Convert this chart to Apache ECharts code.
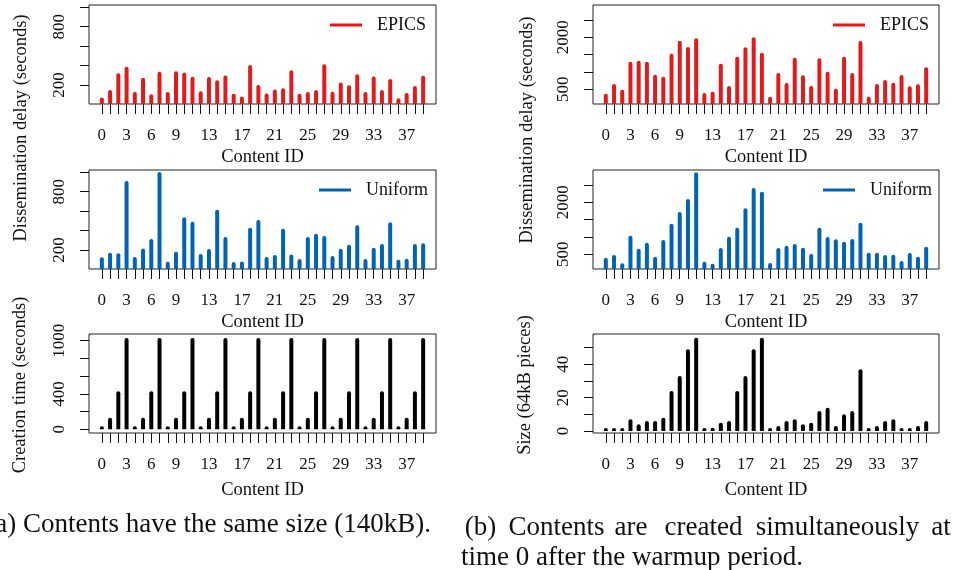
<!DOCTYPE html>
<html>
<head>
<meta charset="utf-8">
<script src="https://cdn.jsdelivr.net/npm/echarts@6/dist/echarts.min.js"></script>
<style>
  html, body { margin: 0; padding: 0; background: #fff; }
  #chart { width: 965px; height: 570px; }
</style>
</head>
<body>
<div id="chart"></div>
<script>
// content ids 0..39 (x categories)
var contentIds = [0,1,2,3,4,5,6,7,8,9,10,11,12,13,14,15,16,17,18,19,
                  20,21,22,23,24,25,26,27,28,29,30,31,32,33,34,35,36,37,38,39];
var xTickLabels = [0,3,6,9,13,17,21,25,29,33,37];

// (a) same size contents
var epicsSameSize = [73,149,320,389,128,275,104,337,128,341,330,286,135,282,248,299,111,83,406,200,
                     114,155,166,351,111,128,149,413,131,227,197,310,128,289,149,262,63,118,190,296];
var uniformSameSize = [125,173,166,910,128,217,313,1002,80,183,536,491,159,210,615,334,77,83,430,509,
                       128,149,419,155,107,334,368,344,138,214,255,454,107,224,262,485,101,111,262,269];
var creationTime = [0,130,430,1030,0,130,430,1030,0,130,430,1030,0,130,430,1030,0,130,430,1030,
                    0,130,430,1030,0,130,430,1030,0,130,430,1030,0,130,430,1030,0,130,430,1030];

// (b) contents created simultaneously
var epicsVariedSize = [375,654,490,1298,1327,1298,923,865,1529,1904,1721,1971,394,433,1240,596,1442,1711,2000,1558,
                       288,971,683,1413,904,596,1394,1010,519,1442,971,1894,288,654,769,692,913,587,644,1135];
var uniformVariedSize = [404,481,240,1038,663,837,433,913,1385,1721,2096,2865,288,231,683,1010,1269,1827,2413,2308,
                         250,683,750,798,692,510,1269,1000,933,865,942,1413,548,548,481,490,308,538,433,721];
var sizePieces = [1,1,1,7,4,6,6,8,24,33,49,56,1,2,5,6,24,33,49,56,
                  1,3,6,7,4,5,12,14,3,10,12,37,1,3,6,7,1,1,3,6];

var delayTicksA = [200,400,600,800,1000], delayLabelsA = [200,800];
var creationTicks = [0,200,400,600,800,1000], creationLabels = [0,400,1000];
var delayTicksB = [500,1000,1500,2000,2500], delayLabelsB = [500,2000];
var sizeTicks = [0,10,20,30,40,50], sizeLabels = [0,20,40];

var RED = '#e31a1c', BLUE = '#0063b4', BLACK = '#000';
var FONT = 'Liberation Serif';

var chart = echarts.init(document.getElementById('chart'));

var panels = [
  {left: 89,  top: 5,   width: 347, min: 5,   max: 1023, ticks: delayTicksA, labels: delayLabelsA, data: epicsSameSize, name: 'EPICS', color: RED, gap: 44},
  {left: 89,  top: 170, width: 347, min: 5,   max: 1023, ticks: delayTicksA, labels: delayLabelsA, data: uniformSameSize, name: 'Uniform', color: BLUE, gap: 44},
  {left: 89,  top: 334, width: 347, min: -41, max: 1075, ticks: creationTicks, labels: creationLabels, data: creationTime, name: 'Creation', color: BLACK, gap: 48},
  {left: 593, top: 5,   width: 346, min: 77,  max: 2933, ticks: delayTicksB, labels: delayLabelsB, data: epicsVariedSize, name: 'EPICS', color: RED, gap: 44},
  {left: 593, top: 170, width: 346, min: 77,  max: 2933, ticks: delayTicksB, labels: delayLabelsB, data: uniformVariedSize, name: 'Uniform', color: BLUE, gap: 44},
  {left: 593, top: 334, width: 346, min: -1.2, max: 58.2, ticks: sizeTicks, labels: sizeLabels, data: sizePieces, name: 'Size', color: BLACK, gap: 48}
];

var grids = [], xAxes = [], yAxes = [], series = [];
panels.forEach(function (p, i) {
  grids.push({left: p.left, top: p.top, width: p.width, height: 99,
              show: true, borderColor: '#222', borderWidth: 1, backgroundColor: 'transparent'});
  xAxes.push({
    type: 'value', gridIndex: i, min: -1.56, max: 40.56, position: 'bottom',
    name: 'Content ID', nameLocation: 'middle', nameGap: p.gap,
    nameTextStyle: {fontFamily: FONT, fontSize: 18.5, color: '#111'},
    axisLine: {show: false, onZero: false},
    axisTick: {show: true, inside: false, length: 10, customValues: contentIds, lineStyle: {color: '#111'}},
    axisLabel: {customValues: xTickLabels, margin: 23, fontFamily: FONT, fontSize: 17, color: '#111'},
    splitLine: {show: false}
  });
  yAxes.push({
    type: 'value', gridIndex: i, min: p.min, max: p.max, position: 'left',
    axisLine: {show: false, onZero: false},
    axisTick: {show: true, inside: false, length: 9, customValues: p.ticks, lineStyle: {color: '#111'}},
    axisLabel: {customValues: p.labels, rotate: 90, margin: 21, fontFamily: FONT, fontSize: 17, color: '#111',
                formatter: function (v) { return String(v); }},
    splitLine: {show: false}
  });
  series.push({
    type: 'bar', name: p.name, xAxisIndex: i, yAxisIndex: i,
    barWidth: 4, barMinHeight: 3, clip: true,
    itemStyle: {color: p.color, borderRadius: [2, 2, 0, 0]},
    data: p.data.map(function (v, k) { return [contentIds[k], v]; })
  });
});

function legendAt(name, left, top) {
  return {
    data: [name], left: left, top: top, padding: 0, orient: 'horizontal',
    icon: 'rect', itemWidth: 32, itemHeight: 3, selectedMode: false,
    textStyle: {fontFamily: FONT, fontSize: 18, color: '#111', lineHeight: 20, padding: [0, 0, 0, 10]}
  };
}

function vTitle(text, x, y) {
  return {type: 'text', x: x, y: y, rotation: Math.PI / 2,
          style: {text: text, font: '18.5px "' + FONT + '"', fill: '#111', align: 'center', verticalAlign: 'middle'}};
}
function caption(text, x, y, align) {
  return {type: 'text', x: x, y: y,
          style: {text: text, font: '27px "' + FONT + '"', fill: '#111', align: align, verticalAlign: 'middle'}};
}

var graphics = [
  vTitle('Dissemination delay (seconds)', 21, 128),
  vTitle('Creation time (seconds)', 20, 385),
  vTitle('Dissemination delay (seconds)', 527, 130),
  vTitle('Size (64kB pieces)', 525, 385),
  caption('(a) Contents have the same size (140kB).', 431, 525, 'right'),
  caption('(b)', 480.5, 528, 'center'),
  caption('Contents', 556.5, 528, 'center'),
  caption('are', 631, 528, 'center'),
  caption('created', 703.5, 528, 'center'),
  caption('simultaneously', 837.5, 528, 'center'),
  caption('at', 941, 528, 'center'),
  caption('time 0 after the warmup period.', 461, 558, 'left')
];

chart.setOption({
  animation: false,
  textStyle: {fontFamily: FONT, color: '#111'},
  grid: grids,
  xAxis: xAxes,
  yAxis: yAxes,
  legend: [
    legendAt('EPICS', 330, 15),
    legendAt('Uniform', 319, 180),
    legendAt('EPICS', 833, 15),
    legendAt('Uniform', 823, 180)
  ],
  series: series,
  graphic: graphics
});
</script>
</body>
</html>
